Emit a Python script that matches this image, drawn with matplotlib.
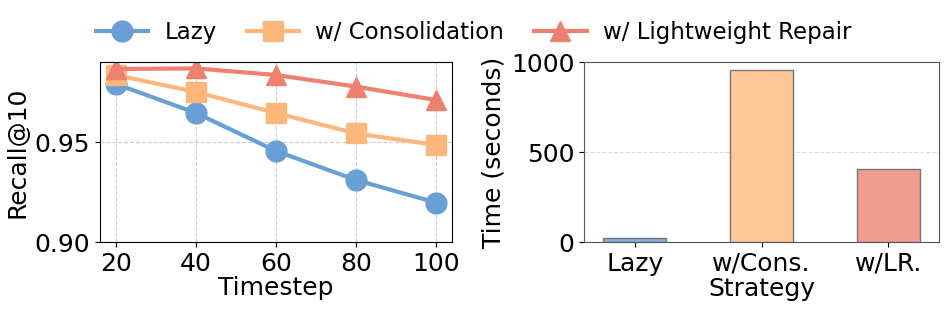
import matplotlib
matplotlib.use('Agg')
import matplotlib.pyplot as plt
import numpy as np

timesteps = [20, 40, 60, 80, 100]
recall_lazy = [0.979, 0.9645, 0.9455, 0.931, 0.9197]
recall_cons = [0.9835, 0.975, 0.9645, 0.9543, 0.9485]
recall_repair = [0.9865, 0.9868, 0.9835, 0.9777, 0.971]

strategies = ['Lazy', 'w/Cons.', 'w/LR.']
times = [25, 955, 406]

series_labels = ['Lazy', 'w/ Consolidation', 'w/ Lightweight Repair']
line_colors = ['#6a9fd6', '#fdb77a', '#ee8070']
bar_colors = ['#7fb0e0', '#fec898', '#f19a8e']
markers = ['o', 's', '^']

plt.rcParams['font.family'] = 'DejaVu Sans'
fig = plt.figure(figsize=(9.47, 3.12), dpi=100)

ax1 = fig.add_axes([100 / 947, 70 / 312, 352 / 947, 180 / 312])
ax2 = fig.add_axes([584 / 947, 70 / 312, 355 / 947, 180 / 312])

handles = []
for values, color, marker, label in zip([recall_lazy, recall_cons, recall_repair],
                                        line_colors, markers, series_labels):
    h, = ax1.plot(timesteps, values, color=color, marker=marker, markersize=15,
                  linewidth=3, label=label)
    handles.append(h)

ax1.set_xlim(16, 104)
ax1.set_ylim(0.90, 0.99)
ax1.set_xticks(timesteps)
ax1.set_yticks([0.90, 0.95])
ax1.set_yticklabels(['0.90', '0.95'])
ax1.set_xlabel('Timestep', fontsize=18, labelpad=0)
ax1.set_ylabel('Recall@10', fontsize=18)
ax1.tick_params(labelsize=18)
ax1.grid(True, linestyle='--', color='#cccccc', linewidth=0.8)
ax1.set_axisbelow(True)

x = np.arange(len(strategies))
ax2.bar(x, times, width=0.5, color=bar_colors, edgecolor='#777777', linewidth=1, zorder=3)
ax2.set_xlim(-0.4, 2.4)
ax2.set_ylim(0, 1000)
ax2.set_yticks([0, 500, 1000])
ax2.set_xticks(x)
ax2.set_xticklabels(strategies)
ax2.set_xlabel('Strategy', fontsize=18, labelpad=1)
ax2.set_ylabel('Time (seconds)', fontsize=18)
ax2.tick_params(labelsize=18)
ax2.yaxis.grid(True, linestyle='--', color='#dddddd', linewidth=0.8)
ax2.set_axisbelow(True)
for spine in ax2.spines.values():
    spine.set_color('#555555')

fig.legend(handles=handles, loc='upper center', bbox_to_anchor=(0.5, 1.0), ncol=3,
           frameon=False, fontsize=16.5, handlelength=2.3, columnspacing=1.3,
           handletextpad=0.7)

fig.savefig('out.png', dpi=100)
